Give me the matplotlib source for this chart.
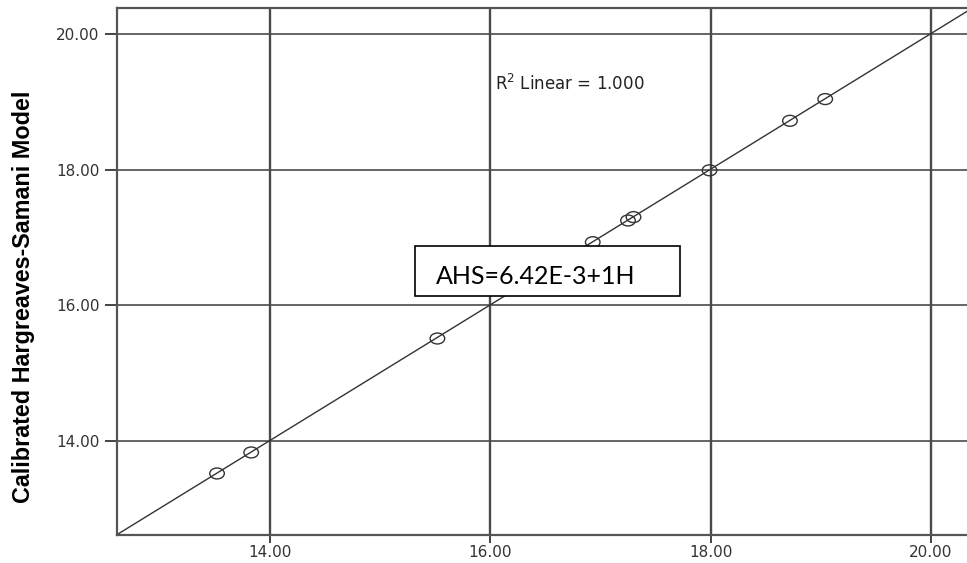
import matplotlib
matplotlib.use("Agg")
import matplotlib.pyplot as plt
from matplotlib.markers import MarkerStyle
from matplotlib.transforms import Affine2D
from matplotlib.patches import Rectangle
import numpy as np

plt.rcParams["font.family"] = ["DejaVu Sans"]
plt.rcParams["mathtext.fontset"] = "dejavusans"

# observed (Hargreaves) vs calibrated model values
h_vals = [13.52, 13.83, 15.52, 16.93, 17.25, 17.30, 17.99, 18.72, 19.04]
ahs_vals = [13.52, 13.83, 15.51, 16.93, 17.25, 17.30, 17.99, 18.72, 19.04]
ticks = [14, 16, 18, 20]
tick_labels = ["14.00", "16.00", "18.00", "20.00"]
intercept, slope = 6.42e-3, 1.0

fig = plt.figure(figsize=(9.67, 5.63), dpi=100)
ax = fig.add_axes([117 / 967, 28 / 563, 1 - 117 / 967, 527 / 563])

xlim = (12.612, 20.327)
ax.set_xlim(*xlim)
ax.set_ylim(12.613, 20.383)

grid_c = "#4a4a4a"
for t in ticks:
    ax.axvline(t, color=grid_c, lw=1.7, zorder=1)
    ax.axhline(t, color=grid_c, lw=1.2, zorder=1)

# fit line across the whole plot
xs = np.array(xlim)
ax.plot(xs, intercept + slope * xs, color="#333333", lw=1.0, zorder=2)

ell = MarkerStyle("o", transform=Affine2D().scale(1.0, 0.75))
ax.scatter(h_vals, ahs_vals, marker=ell, s=110, facecolors="none",
           edgecolors="#333333", linewidths=1.0, zorder=3)

ax.set_xticks(ticks)
ax.set_xticklabels(tick_labels)
ax.set_yticks(ticks)
ax.set_yticklabels(tick_labels)
ax.tick_params(axis="both", direction="out", length=9, width=1.4,
               color="#444444", labelsize=11, labelcolor="#333333")
ax.tick_params(axis="x", pad=1, length=6)

for side in ("left", "bottom", "top"):
    ax.spines[side].set_color("#555555")
    ax.spines[side].set_linewidth(1.6)
ax.spines["right"].set_visible(False)

ax.set_ylabel("Calibrated Hargreaves-Samani Model",
              family=["Liberation Sans", "DejaVu Sans"],
              fontweight="bold", fontsize=16.8)
ax.yaxis.set_label_coords(-0.097, 0.452)

ax.text(16.04, 19.27, r"R$^2$ Linear = 1.000", fontsize=12,
        color="#222222", va="center", ha="left")

# equation box
ax.add_patch(Rectangle((15.318, 16.13), 2.40, 0.75, facecolor="white",
                       edgecolor="black", lw=1.2, zorder=4))
ax.text(15.506, 16.31, "AHS=6.42E-3+1H", fontsize=18,
        family="Lato", ha="left", va="baseline", zorder=5)

fig.savefig("out.png", dpi=100)
